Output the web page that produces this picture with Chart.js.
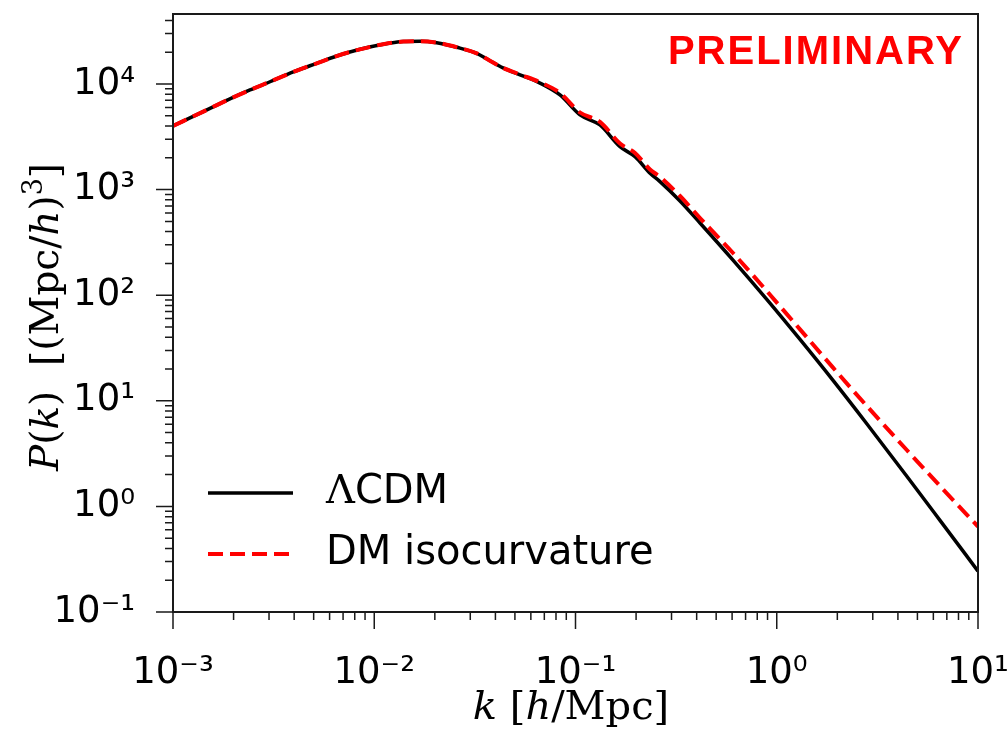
<!DOCTYPE html>
<html>
<head>
  <script src="https://cdn.jsdelivr.net/npm/chart.js@4/dist/chart.umd.min.js"></script>
  <style>
    html, body { margin: 0; padding: 0; background: #fff; }
  </style>
</head>
<body>
  <canvas id="myChart" width="1008" height="731"></canvas>
  <script type="text/javascript">
    // wavenumber k [h/Mpc]
    var kValues = [0.001, 0.001414, 0.001849, 0.002414, 0.003034, 0.003961, 0.005176, 0.006507, 0.008496, 0.01109,
      0.01394, 0.01688, 0.02043, 0.02568, 0.03229, 0.03687, 0.04363, 0.05299, 0.06661, 0.08374,
      0.1053, 0.1323, 0.1664, 0.1976, 0.2346, 0.2630, 0.3306, 0.4156, 0.6062, 0.8944,
      1.305, 1.904, 2.808, 4.439, 6.474, 10];
    // P(k) [(Mpc/h)^3]
    var lcdmPk = [4000, 5480, 7000, 8780, 10500, 13000, 15700, 18400, 21300, 23800,
      25200, 25400, 24600, 22300, 19500, 16950, 14200, 12200, 10200, 7870,
      5090, 4090, 2550, 2050, 1430, 1190, 780, 483, 215, 90.8,
      38.1, 15.6, 6.03, 1.92, 0.738, 0.244];
    var isoPk = [4000, 5480, 7000, 8780, 10500, 13000, 15700, 18400, 21300, 23800,
      25200, 25400, 24600, 22300, 19500, 16950, 14200, 12300, 10400, 8220,
      5370, 4370, 2730, 2220, 1550, 1320, 870, 538, 251, 108.9,
      47.4, 20.6, 8.89, 3.40, 1.56, 0.645];
    var seriesLabels = ['ΛCDM', 'DM isocurvature'];
    var xMajorTicks = [1e-3, 1e-2, 1e-1, 1, 10];
    var yMajorTicks = [0.1, 1, 10, 100, 1000, 10000];
    var minorSteps = [2, 3, 4, 5, 6, 7, 8, 9];

    var sup = {'-': '⁻', '0': '⁰', '1': '¹', '2': '²', '3': '³', '4': '⁴', '5': '⁵'};
    function powLabel(v) {
      var e = Math.round(Math.log10(v));
      return '10' + String(e).split('').map(function(c) { return sup[c]; }).join('');
    }

    // draws a line of mixed-font text centred on x
    function drawRich(ctx, parts, x, y) {
      var w = 0;
      parts.forEach(function(p) { ctx.font = p.f; w += ctx.measureText(p.t).width; });
      var cx = x - w / 2;
      parts.forEach(function(p) {
        ctx.font = p.f;
        ctx.fillText(p.t, cx, y + (p.dy || 0));
        cx += ctx.measureText(p.t).width;
      });
    }

    var extras = {
      id: 'extras',
      afterDraw: function(chart) {
        var ctx = chart.ctx, a = chart.chartArea;
        var xs = chart.scales.x, ys = chart.scales.y;
        ctx.save();
        // tick marks
        ctx.strokeStyle = '#1a1a1a';
        ctx.lineWidth = 1.5;
        ctx.beginPath();
        xMajorTicks.forEach(function(d) {
          var px = xs.getPixelForValue(d);
          ctx.moveTo(px, a.bottom); ctx.lineTo(px, a.bottom + 17);
          minorSteps.forEach(function(m) {
            var v = d * m;
            if (v > xs.max) return;
            var p = xs.getPixelForValue(v);
            ctx.moveTo(p, a.bottom); ctx.lineTo(p, a.bottom + 8);
          });
        });
        yMajorTicks.forEach(function(d) {
          var py = ys.getPixelForValue(d);
          ctx.moveTo(a.left, py); ctx.lineTo(a.left - 17, py);
          minorSteps.forEach(function(m) {
            var v = d * m;
            if (v > ys.max) return;
            var p = ys.getPixelForValue(v);
            ctx.moveTo(a.left, p); ctx.lineTo(a.left - 8, p);
          });
        });
        ctx.stroke();
        // frame
        ctx.lineWidth = 2;
        ctx.strokeRect(a.left, a.top, a.right - a.left, a.bottom - a.top);

        // axis titles
        ctx.fillStyle = '#000';
        ctx.textBaseline = 'alphabetic';
        var it = 'italic 40px "DejaVu Serif"', rm = '40px "DejaVu Serif"';
        drawRich(ctx, [
          {t: 'k', f: it}, {t: ' [', f: rm}, {t: 'h', f: it}, {t: '/Mpc]', f: rm}
        ], 571, 719);
        ctx.save();
        ctx.translate(58, (a.top + a.bottom) / 2 + 4);
        ctx.rotate(-Math.PI / 2);
        it = 'italic 39px "DejaVu Serif"'; rm = '39px "DejaVu Serif"';
        drawRich(ctx, [
          {t: 'P', f: it}, {t: '(', f: rm}, {t: 'k', f: it}, {t: ')  [(Mpc/', f: rm},
          {t: 'h', f: it}, {t: ')', f: rm}, {t: '3', f: '27px "DejaVu Serif"', dy: -16}, {t: ']', f: rm}
        ], 0, 0);
        ctx.restore();

        // legend
        var rows = [493, 554];
        [0, 1].forEach(function(i) {
          var ds = chart.data.datasets[i];
          ctx.save();
          ctx.strokeStyle = ds.borderColor;
          ctx.lineWidth = ds.borderWidth;
          ctx.setLineDash(ds.borderDash || []);
          ctx.beginPath();
          ctx.moveTo(208, rows[i]); ctx.lineTo(293, rows[i]);
          ctx.stroke();
          ctx.restore();
        });
        ctx.textBaseline = 'middle';
        ctx.textAlign = 'left';
        ctx.font = '40px "DejaVu Serif"';
        var lam = seriesLabels[0].charAt(0);
        ctx.fillText(lam, 326, rows[0]);
        var lw = ctx.measureText(lam).width;
        ctx.font = '40px "DejaVu Sans"';
        ctx.fillText(seriesLabels[0].slice(1), 326 + lw, rows[0]);
        ctx.fillText(seriesLabels[1], 326, rows[1]);

        // stamp
        ctx.fillStyle = '#ff0000';
        ctx.font = 'bold 40px "Liberation Sans"';
        ctx.textAlign = 'right';
        ctx.textBaseline = 'alphabetic';
        ctx.letterSpacing = '2px';
        ctx.fillText('PRELIMINARY', 964, 64);
        ctx.restore();
      }
    };

    var tickFont = {family: 'DejaVu Sans', size: 37};
    var ctx = document.getElementById('myChart').getContext('2d');
    var chart = new Chart(ctx, {
      type: 'line',
      data: {
        datasets: [{
          label: seriesLabels[0],
          data: kValues.map(function(k, i) { return {x: k, y: lcdmPk[i]}; }),
          borderColor: '#000000',
          borderWidth: 3.5,
          pointRadius: 0,
          cubicInterpolationMode: 'monotone',
          fill: false,
          order: 1
        }, {
          label: seriesLabels[1],
          data: kValues.map(function(k, i) { return {x: k, y: isoPk[i]}; }),
          borderColor: '#ff0000',
          borderWidth: 4,
          borderDash: [15, 7],
          pointRadius: 0,
          cubicInterpolationMode: 'monotone',
          fill: false,
          order: 0
        }]
      },
      options: {
        responsive: false,
        animation: false,
        layout: {padding: {top: 14, right: 30, left: 0, bottom: 0}},
        plugins: {legend: {display: false}, tooltip: {enabled: false}},
        scales: {
          x: {
            type: 'logarithmic',
            min: 1e-3,
            max: 10,
            grid: {display: false},
            border: {display: false},
            afterBuildTicks: function(s) { s.ticks = xMajorTicks.map(function(v) { return {value: v}; }); },
            afterFit: function(s) { s.height = 119; s.paddingLeft = 0; s.paddingRight = 0; },
            ticks: {autoSkip: false, maxRotation: 0, padding: 31, color: '#000', font: tickFont, callback: powLabel}
          },
          y: {
            type: 'logarithmic',
            min: 0.1,
            max: 46000,
            grid: {display: false},
            border: {display: false},
            afterBuildTicks: function(s) { s.ticks = yMajorTicks.map(function(v) { return {value: v}; }); },
            afterFit: function(s) { s.width = 173; s.paddingTop = 0; s.paddingBottom = 0; },
            ticks: {autoSkip: false, padding: 30, color: '#000', font: tickFont, callback: powLabel}
          }
        }
      },
      plugins: [extras]
    });
  </script>
</body>
</html>
